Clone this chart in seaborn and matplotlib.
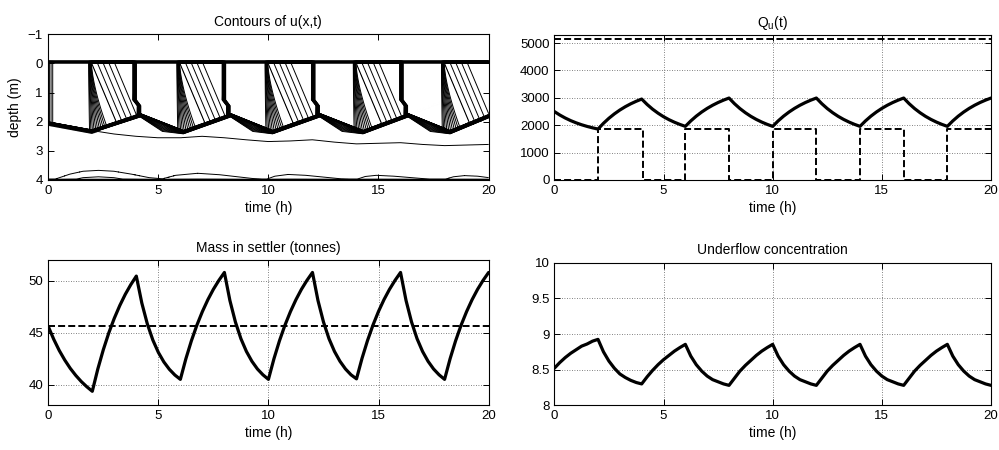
import numpy as np
import pandas as pd
import matplotlib
matplotlib.use("Agg")
import matplotlib.pyplot as plt
import seaborn as sns

# ---------------------------------------------------------------- data
# sample times (h) of the time series, every quarter hour
t_hours = np.arange(81) * 0.25

# feed-controlled underflow rate Q_u(t)
qu = [2500, 2373, 2263, 2168, 2087, 2017, 1957, 1905, 1860,
      2071, 2255, 2415, 2555, 2677, 2783, 2875, 2956,
      2758, 2586, 2440, 2312, 2203, 2110, 2029, 1959,
      2158, 2332, 2483, 2615, 2730, 2830, 2917, 2993,
      2787, 2609, 2457, 2325, 2212, 2115, 2031, 1959,
      2158, 2332, 2483, 2615, 2730, 2830, 2917, 2993,
      2787, 2609, 2457, 2325, 2212, 2115, 2031, 1959,
      2158, 2332, 2483, 2615, 2730, 2830, 2917, 2993,
      2787, 2609, 2457, 2325, 2212, 2115, 2031, 1959,
      2158, 2332, 2483, 2615, 2730, 2830, 2917, 2993]

# feed rate (piecewise constant) and its upper bound
feed_t = [0, 2, 2, 4.05, 4.05, 6, 6, 8, 8, 10, 10, 12, 12, 14, 14, 16, 16, 18, 18, 20]
feed_q = [0, 0, 1870, 1870, 0, 0, 1870, 1870, 0, 0, 1870, 1870, 0, 0, 1870, 1870, 0, 0, 1870, 1870]
qu_max = 5150

# total mass in the settler (tonnes)
mass = [45.60, 44.36, 43.28, 42.36, 41.56, 40.88, 40.29, 39.79, 39.35,
        41.49, 43.35, 44.98, 46.39, 47.62, 48.70, 49.63, 50.45,
        47.85, 45.84, 44.29, 43.10, 42.18, 41.47, 40.92, 40.50,
        42.48, 44.21, 45.72, 47.03, 48.18, 49.18, 50.04, 50.80,
        48.10, 46.03, 44.42, 43.19, 42.24, 41.50, 40.94, 40.50,
        42.48, 44.21, 45.72, 47.03, 48.18, 49.18, 50.04, 50.80,
        48.10, 46.03, 44.42, 43.19, 42.24, 41.50, 40.94, 40.55,
        42.52, 44.24, 45.74, 47.05, 48.19, 49.18, 50.04, 50.80,
        48.10, 46.03, 44.42, 43.19, 42.24, 41.50, 40.94, 40.50,
        42.48, 44.21, 45.72, 47.03, 48.18, 49.18, 50.04, 50.80]
mass_ref = 45.67

# underflow concentration
conc = [8.52, 8.60, 8.67, 8.73, 8.78, 8.83, 8.86, 8.90, 8.925,
        8.75, 8.62, 8.52, 8.44, 8.39, 8.35, 8.32, 8.30,
        8.40, 8.49, 8.57, 8.64, 8.70, 8.76, 8.81, 8.855,
        8.69, 8.57, 8.48, 8.41, 8.36, 8.33, 8.30, 8.28,
        8.38, 8.48, 8.56, 8.63, 8.70, 8.76, 8.81, 8.855,
        8.69, 8.57, 8.48, 8.41, 8.36, 8.33, 8.30, 8.28,
        8.38, 8.48, 8.56, 8.63, 8.70, 8.76, 8.81, 8.855,
        8.69, 8.57, 8.48, 8.41, 8.36, 8.33, 8.30, 8.28,
        8.38, 8.48, 8.56, 8.63, 8.70, 8.76, 8.81, 8.855,
        8.69, 8.57, 8.48, 8.41, 8.36, 8.33, 8.30, 8.28]

# features of the concentration field u(x,t)
blanket_t = [0, 2.0, 4.2, 6.15, 8.3, 10.2, 12.35, 14.3, 16.35, 18.25, 20]
blanket_d = [2.0, 2.28, 1.72, 2.3, 1.72, 2.3, 1.72, 2.3, 1.72, 2.3, 1.75]
layer_t = [0, 2.0, 4.2, 5.2, 6.15, 8.3, 9.3, 10.2, 12.35, 13.35, 14.3, 16.35, 17.35, 18.25, 20]
layer_d = [2.1, 2.38, 1.84, 2.36, 2.42, 1.84, 2.36, 2.42, 1.84, 2.36, 2.42, 1.84, 2.36, 2.42, 1.87]
wave_t = [0, 2, 3, 4, 5, 6, 7, 8, 9, 10, 11, 12, 13, 14, 15, 16, 17, 18, 19, 20]
wave_d = [2.0, 2.3, 2.42, 2.5, 2.55, 2.55, 2.5, 2.55, 2.62, 2.68, 2.66, 2.62,
          2.7, 2.76, 2.74, 2.72, 2.78, 2.82, 2.8, 2.78]
bottom_t = [0, 0.3, 1.0, 1.6, 2.3, 3.0, 3.8, 4.6, 5.2, 5.8, 6.8, 7.8, 9.3,
            9.9, 10.3, 10.9, 11.7, 13.3, 14.0, 14.4, 14.9, 15.7, 17.3,
            18.0, 18.4, 18.9, 19.5, 20]
bottom_d = [4.05, 3.98, 3.80, 3.70, 3.67, 3.70, 3.80, 3.92, 3.96, 3.84, 3.77, 3.82, 3.95,
            3.98, 3.87, 3.81, 3.84, 3.96, 3.98, 3.88, 3.84, 3.87, 3.97,
            3.98, 3.89, 3.85, 3.87, 3.92]
fan_start = [1.85, 5.85, 9.85, 13.85, 17.85]
shock_t = [3.85, 7.9, 11.95, 15.95, 99.0]
wave_speed = 1.8   # m/h, speed of the straight characteristics after each fan

# ---------------------------------------------------------------- field
tg = np.linspace(0, 20, 1201)
xg = np.linspace(-1, 4, 1001)
T, X = np.meshgrid(tg, xg)
h = np.interp(tg, blanket_t, blanket_d)[None, :]
H0 = np.interp(tg, layer_t, layer_d)[None, :]
L = np.maximum(np.interp(tg, wave_t, wave_d)[None, :], H0 + 0.02)
B = np.interp(tg, bottom_t, bottom_d)[None, :]


def fan_value(dt, xp):
    """Level inside the rarefaction that follows each switch of the feed."""
    phi = dt / (0.15 + 0.244 * xp ** 1.5)
    dense = 0.6 * np.clip(phi, 0, 1) ** 0.8
    lag = dt - 0.15 - xp / wave_speed
    sparse = 0.6 + 0.25 * np.clip(lag / 1.3, 0, 1)
    return np.where(phi <= 1, dense, sparse)


Z = np.where(T < 0.3, 0.2 * (1 - T / 0.3), 0.0)
xp = np.maximum(X, 0)
for a, b in zip(fan_start, shock_t):
    bx = b + 0.2 * np.clip((X - 1.25) / 0.2, 0, 1)
    dt = T - a
    val = fan_value(np.maximum(dt, 0), xp)
    vb = fan_value(np.maximum(bx - a, 0), xp)
    decay = vb * np.clip(1 - (T - bx) / 0.18, 0, 1)
    Z = np.where((dt > 0) & (T < bx), val, Z)
    Z = np.where((T >= bx) & (T < bx + 0.18), decay, Z)

zone = 1.0 + Z
top = np.clip((X + 0.1) / 0.1, 0, 1)
u = zone * top
ramp = zone + (3 - zone) * np.clip((X - h) / 0.07, 0, 1)
u = np.where(X >= h, ramp, u)
sub = 3 + np.clip((X - h - 0.07) / np.maximum(H0 - h - 0.07, 1e-3), 0, 1)
u = np.where(X >= h + 0.07, sub, u)
u = np.where(X >= H0, 4 + 0.3 * (X - H0) / (L - H0), u)
u = np.where(X >= L, 4.3 + 0.4 * (X - L) / (3.4 - L), u)
u = np.where(X >= 3.4, 4.7 + 0.3 * (X - 3.4) / (B - 3.4), u)
u = np.where((X >= 3.4) & (X >= B), 5.0 + 0.3 * (X - B) / 0.22, u)
u = u + 2.0 * np.clip((X - 3.97) / 0.03, 0, 1)

levels = sorted(set(
    [round(v, 3) for v in np.arange(0.1, 0.95, 0.1)] +
    [round(v, 3) for v in np.arange(1.05, 1.88, 0.05)] +
    [round(v, 3) for v in np.arange(2.0, 2.95, 0.1)] +
    [round(v, 3) for v in np.arange(3.1, 3.95, 0.1)] +
    [4.3, 5.0, 5.3, 5.8, 6.0, 6.2, 6.4]))

# ---------------------------------------------------------------- style
sns.set_theme(style="ticks")
plt.rcParams["font.family"] = ["Liberation Sans", "DejaVu Sans"]
plt.rcParams.update({
    "axes.edgecolor": "black", "axes.linewidth": 0.8,
    "xtick.color": "black", "ytick.color": "black",
    "xtick.direction": "in", "ytick.direction": "in",
    "xtick.top": True, "ytick.right": True,
    "xtick.major.size": 4, "ytick.major.size": 4,
    "xtick.major.width": 0.7, "ytick.major.width": 0.7,
    "xtick.labelsize": 9.5, "ytick.labelsize": 9.5,
    "axes.labelsize": 10, "axes.titlesize": 10,
    "text.color": "black", "axes.labelcolor": "black",
})

fig = plt.figure(figsize=(9.99, 4.5), dpi=100)
ax1 = fig.add_axes([0.0478, 0.600, 0.4414, 0.3238])
ax2 = fig.add_axes([0.5549, 0.600, 0.4371, 0.3213])
ax3 = fig.add_axes([0.0483, 0.0993, 0.4408, 0.3229])
ax4 = fig.add_axes([0.5549, 0.0993, 0.4371, 0.3169])

grid_kw = dict(color="0.35", linestyle=(0, (1, 2)), linewidth=0.6)
dash = (0, (3.6, 1.6))
lw_thick = 2.3

# contours of u(x,t)
ax1.contour(tg, xg, u, levels=levels, colors="black", linewidths=0.7)
ax1.set_xlim(0, 20)
ax1.set_ylim(4, -1)
ax1.set_yticks([-1, 0, 1, 2, 3, 4])
ax1.set_xticks([0, 5, 10, 15, 20])
ax1.set_title("Contours of u(x,t)", pad=6)
ax1.set_ylabel("depth (m)", labelpad=4)
ax1.set_xlabel("time (h)", labelpad=3)

# Q_u(t)
sns.lineplot(x=feed_t, y=feed_q, ax=ax2, color="black", linewidth=1.4,
             linestyle=dash, estimator=None, sort=False)
sns.lineplot(x=[0, 20], y=[qu_max, qu_max], ax=ax2, color="black",
             linewidth=1.4, linestyle=dash, estimator=None, sort=False)
sns.lineplot(x=t_hours, y=qu, ax=ax2, color="black", linewidth=lw_thick,
             estimator=None, sort=False)
ax2.set_xlim(0, 20)
ax2.set_ylim(0, 5280)
ax2.set_yticks([0, 1000, 2000, 3000, 4000, 5000])
ax2.set_xticks([0, 5, 10, 15, 20])
ax2.grid(True, **grid_kw)
ax2.set_title(r"$\mathregular{Q_u}$(t)", pad=6)
ax2.set_xlabel("time (h)", labelpad=3)
ax2.set_ylabel("")

# mass in settler
sns.lineplot(x=[0, 20], y=[mass_ref, mass_ref], ax=ax3, color="black",
             linewidth=1.4, linestyle=dash, estimator=None, sort=False)
sns.lineplot(x=t_hours, y=mass, ax=ax3, color="black", linewidth=lw_thick,
             estimator=None, sort=False)
ax3.set_xlim(0, 20)
ax3.set_ylim(38, 52)
ax3.set_yticks([40, 45, 50])
ax3.set_xticks([0, 5, 10, 15, 20])
ax3.grid(True, **grid_kw)
ax3.set_title("Mass in settler (tonnes)", pad=6)
ax3.set_xlabel("time (h)", labelpad=3)
ax3.set_ylabel("")

# underflow concentration
sns.lineplot(x=t_hours, y=conc, ax=ax4, color="black", linewidth=lw_thick,
             estimator=None, sort=False)
ax4.set_xlim(0, 20)
ax4.set_ylim(8, 10)
ax4.set_yticks([8, 8.5, 9, 9.5, 10])
ax4.set_yticklabels(["8", "8.5", "9", "9.5", "10"])
ax4.set_xticks([0, 5, 10, 15, 20])
ax4.grid(True, **grid_kw)
ax4.set_title("Underflow concentration", pad=6)
ax4.set_xlabel("time (h)", labelpad=3)
ax4.set_ylabel("")

for ax in (ax1, ax2, ax3, ax4):
    for sp in ax.spines.values():
        sp.set_visible(True)
        sp.set_color("black")

fig.savefig("out.png", dpi=100)
